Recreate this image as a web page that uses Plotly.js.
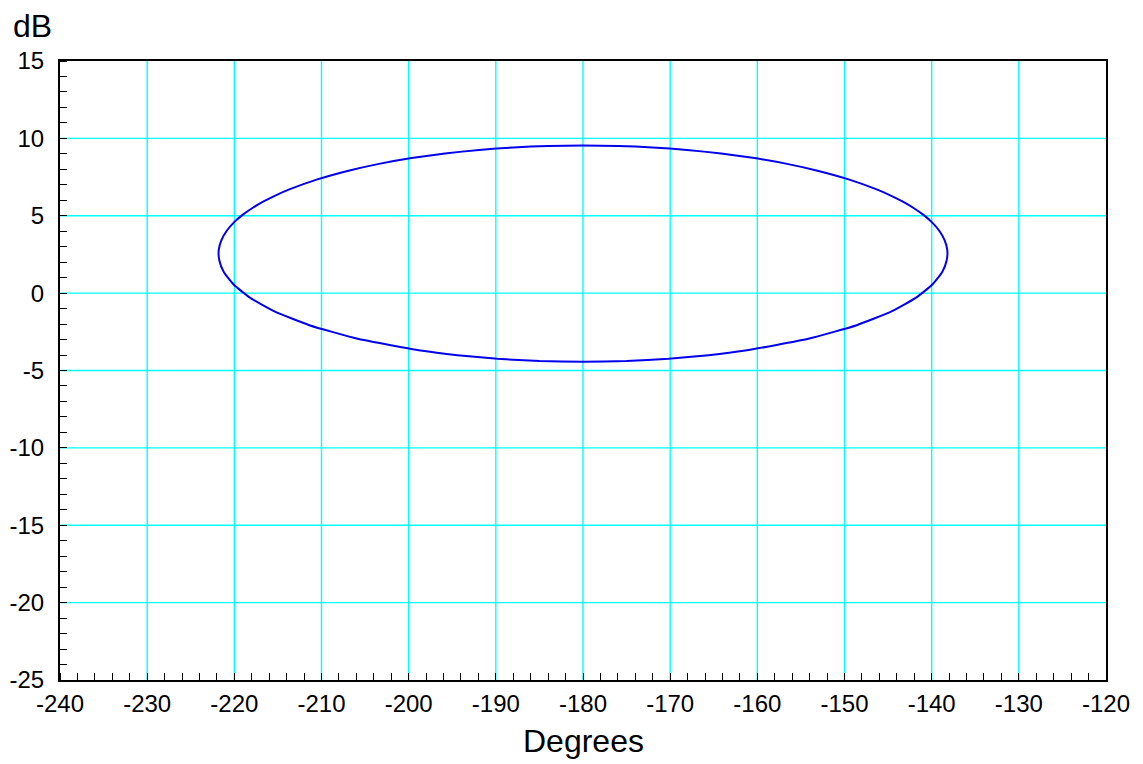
<!DOCTYPE html>
<html>
<head>
<meta charset="utf-8">
<script src="https://cdn.plot.ly/plotly-3.0.1.min.js"></script>
<style>
html,body{margin:0;padding:0;background:#fff;}
#chart{width:1143px;height:764px;}
#chart .gridlayer path{shape-rendering:auto !important;}
</style>
</head>
<body>
<div id="chart"></div>
<script>
// Closed contour (phase in degrees, gain in dB)
const phaseDeg = [
  -180, -184.98, -189.82, -194.40, -198.62, -205.85, -211.40, -215.45, -218.26, -220.11,
  -221.21, -221.72, -221.79, -221.48, -220.89, -220.07, -219.06, -217.88, -216.59, -215.18,
  -213.69, -210.47, -207.02, -203.41, -199.67, -195.84, -191.93, -187.98, -184.00, -180,
  -176.00, -172.02, -168.07, -164.16, -160.33, -156.59, -152.98, -149.53, -146.31, -144.82,
  -143.41, -142.12, -140.94, -139.93, -139.11, -138.52, -138.21, -138.28, -138.79, -139.89,
  -141.74, -144.55, -148.60, -154.15, -161.38, -165.60, -170.18, -175.02, -180
];
const gainDb = [
  -4.437, -4.388, -4.243, -4.012, -3.710, -2.948, -2.072, -1.165, -0.274, 0.574,
  1.370, 2.109, 2.795, 3.428, 4.014, 4.555, 5.055, 5.517, 5.944, 6.338,
  6.702, 7.348, 7.894, 8.351, 8.726, 9.025, 9.254, 9.415, 9.511, 9.542,
  9.511, 9.415, 9.254, 9.025, 8.726, 8.351, 7.894, 7.348, 6.702, 6.338,
  5.944, 5.517, 5.055, 4.555, 4.014, 3.428, 2.795, 2.109, 1.370, 0.574,
  -0.274, -1.165, -2.072, -2.948, -3.710, -4.012, -4.243, -4.388, -4.437
];
const xTicks = [-240, -230, -220, -210, -200, -190, -180, -170, -160, -150, -140, -130, -120];
const yTicks = [-25, -20, -15, -10, -5, 0, 5, 10, 15];
const xLabel = 'Degrees';
const yLabel = 'dB';

const FONT = '"Liberation Sans", Arial, Helvetica, sans-serif';

const trace = {
  x: phaseDeg, y: gainDb, type: 'scatter', mode: 'lines',
  line: {color: '#0000ee', width: 2, shape: 'spline', smoothing: 0.5},
  hoverinfo: 'skip'
};

const common = {
  showgrid: true, gridcolor: '#00ffff', gridwidth: 1.4,
  zeroline: false, showline: true, linecolor: '#000', linewidth: 2, mirror: true,
  ticks: '', tickfont: {family: FONT, size: 24, color: '#000'}
};

const minorCommon = {ticks: 'inside', ticklen: 7, tickcolor: '#000', tickwidth: 1,
  showgrid: false};

const layout = {
  width: 1143, height: 764,
  margin: {l: 60, r: 37, t: 61, b: 84},
  paper_bgcolor: '#fff', plot_bgcolor: '#fff',
  showlegend: false,
  xaxis: Object.assign({}, common, {
    range: [-240, -120], tickmode: 'array', tickvals: xTicks, ticktext: xTicks.map(String),
    ticklabelstandoff: 1,
    minor: Object.assign({}, minorCommon, {dtick: 2, tick0: -240})
  }),
  yaxis: Object.assign({}, common, {
    range: [-25, 15], tickmode: 'array', tickvals: yTicks, ticktext: yTicks.map(String),
    ticklabelstandoff: 9,
    minor: Object.assign({}, minorCommon, {dtick: 1, tick0: -25})
  }),
  annotations: [
    {text: yLabel, xref: 'paper', yref: 'paper', x: -0.0263, y: 1.057, xanchor: 'center', yanchor: 'middle',
     showarrow: false, font: {family: FONT, size: 32, color: '#000'}},
    {text: xLabel, xref: 'paper', yref: 'paper', x: 0.5, y: -0.0985, xanchor: 'center', yanchor: 'middle',
     showarrow: false, font: {family: FONT, size: 32, color: '#000'}}
  ]
};

Plotly.newPlot('chart', [trace], layout, {staticPlot: true, displayModeBar: false});
</script>
</body>
</html>
